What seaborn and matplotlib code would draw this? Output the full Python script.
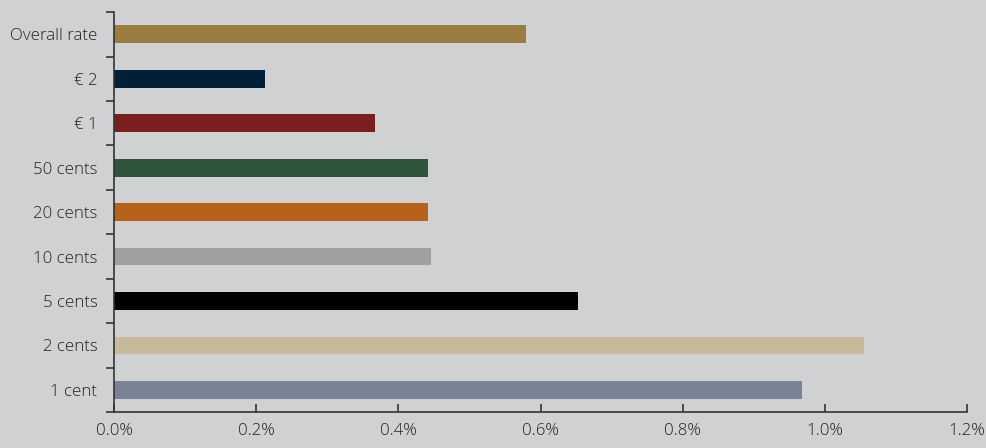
import numpy as np
import pandas as pd
import matplotlib.pyplot as plt
import matplotlib.ticker as mticker
import seaborn as sns

# dữ liệu
categories = ['Overall rate', '€ 2', '€ 1', '50 cents', '20 cents', '10 cents', '5 cents', '2 cents', '1 cent']
values = [0.580, 0.212, 0.367, 0.442, 0.442, 0.446, 0.653, 1.055, 0.968]
colors = ['#9b7d42', '#002039', '#7a1e1e', '#30553a', '#b86118', '#a0a0a0', '#000000', '#c8b99a', '#788395']
xticks = [0.0, 0.2, 0.4, 0.6, 0.8, 1.0, 1.2]

df = pd.DataFrame({'cat': categories, 'val': values})

bg = '#d0d1d3'
sns.set_style('white')
plt.rcParams['font.family'] = ['Open Sans', 'DejaVu Sans']
plt.rcParams['font.weight'] = 'light'

fig, ax = plt.subplots(figsize=(9.87, 4.48), dpi=100)
fig.patch.set_facecolor(bg)
ax.set_facecolor(bg)

sns.barplot(data=df, y='cat', x='val', hue='cat', palette=colors, legend=False,
            width=0.4, saturation=1, linewidth=0, ax=ax, orient='h')

ax.set_xlim(0, 1.2)
ax.set_ylim(len(categories) - 0.5, -0.5)
ax.set_xticks(xticks)
ax.xaxis.set_major_formatter(mticker.FuncFormatter(lambda v, p: f'{v:.1f}%'))
ax.set_xlabel('')
ax.set_ylabel('')

# vạch chia ở ranh giới giữa các nhóm
ax.set_yticks(np.arange(len(categories)))
ax.set_yticklabels(categories)
ax.set_yticks(np.arange(-0.5, len(categories)), minor=True)
ax.tick_params(axis='y', which='major', left=True, length=0, labelsize=12.2, labelcolor='#222222', pad=12)
ax.tick_params(axis='y', which='minor', left=True, length=6, direction='out', color='#333333', width=1.2)
ax.tick_params(axis='x', which='major', bottom=True, length=6, direction='in', color='#333333', width=1.2,
               labelsize=12.2, labelcolor='#222222', pad=8)

for s in ['top', 'right']:
    ax.spines[s].set_visible(False)
for s in ['left', 'bottom']:
    ax.spines[s].set_color('#333333')
    ax.spines[s].set_linewidth(1.2)

plt.subplots_adjust(left=0.1155, right=0.98, top=0.973, bottom=0.08)
plt.savefig('out.png', dpi=100, facecolor=bg)
